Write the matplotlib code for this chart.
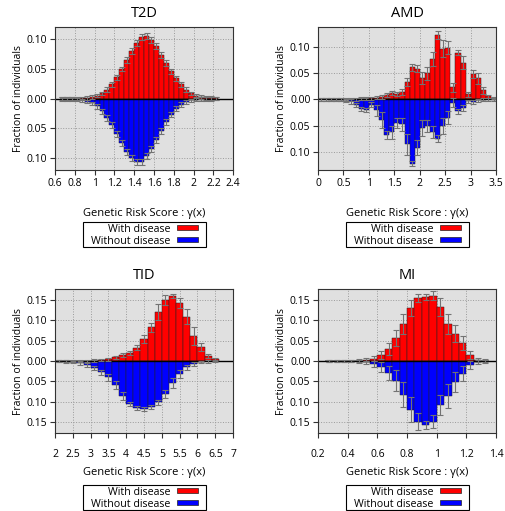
import numpy as np
import matplotlib.pyplot as plt
from matplotlib.patches import Rectangle
from matplotlib.ticker import FuncFormatter

plt.rcParams['font.family'] = ['Open Sans', 'DejaVu Sans']

# ---- T2D: bins 0.65 .. 2.25, width 0.05 ----
t2d_bins = (0.65, 0.05)
t2d_with = [0, 0, 0, 0.0003, 0.0005, 0.001, 0.003, 0.005, 0.009, 0.015, 0.024, 0.036,
            0.050, 0.065, 0.080, 0.094, 0.104, 0.106, 0.099, 0.088, 0.074, 0.060,
            0.046, 0.034, 0.024, 0.015, 0.009, 0.005, 0.003, 0.0015, 0.0008, 0.0003]
t2d_without = [0.0002, 0.0004, 0.0008, 0.0015, 0.003, 0.005, 0.008, 0.013, 0.021, 0.032,
               0.045, 0.060, 0.075, 0.089, 0.100, 0.107, 0.106, 0.097, 0.085, 0.070,
               0.055, 0.040, 0.027, 0.017, 0.010, 0.006, 0.003, 0.0015, 0.0008, 0.0004,
               0.0002, 0.0001]
t2d_with_err = [0.003, 0.003, 0.003, 0.003, 0.003, 0.003, 0.003, 0.003, 0.003, 0.004,
                0.004, 0.004, 0.004, 0.005, 0.005, 0.005, 0.005, 0.005, 0.005, 0.005,
                0.005, 0.005, 0.004, 0.004, 0.004, 0.004, 0.003, 0.003, 0.003, 0.003,
                0.003, 0.003]
t2d_without_err = [0.003, 0.003, 0.003, 0.003, 0.003, 0.003, 0.003, 0.004, 0.004, 0.005,
                   0.005, 0.005, 0.005, 0.005, 0.005, 0.005, 0.005, 0.005, 0.005, 0.005,
                   0.005, 0.005, 0.004, 0.004, 0.004, 0.003, 0.003, 0.003, 0.003, 0.003,
                   0.003, 0.003]
t2d_xticks = [0.6, 0.8, 1, 1.2, 1.4, 1.6, 1.8, 2, 2.2, 2.4]

# ---- AMD: bins 0 .. 3.5, width 0.1 ----
amd_bins = (0.0, 0.1)
amd_with = [0, 0, 0, 0, 0, 0, 0, 0.0005, 0.001, 0.001, 0.002, 0.003, 0.004, 0.009,
            0.012, 0.011, 0.014, 0.033, 0.061, 0.059, 0.041, 0.050, 0.077, 0.123,
            0.097, 0.099, 0.023, 0.089, 0.070, 0.010, 0.048, 0.040, 0.017, 0.006, 0.003]
amd_without = [0, 0, 0.0005, 0.001, 0.001, 0.002, 0.004, 0.010, 0.018, 0.020, 0.010,
               0.021, 0.040, 0.068, 0.063, 0.045, 0.048, 0.086, 0.123, 0.092, 0.055,
               0.051, 0.062, 0.075, 0.051, 0.035, 0.006, 0.023, 0.016, 0.004, 0.005,
               0.002, 0.001, 0, 0]
amd_with_err = [0.003, 0.003, 0.003, 0.003, 0.003, 0.003, 0.003, 0.003, 0.003, 0.003,
                0.003, 0.003, 0.004, 0.004, 0.004, 0.004, 0.005, 0.008, 0.006, 0.006,
                0.012, 0.012, 0.014, 0.007, 0.016, 0.012, 0.008, 0.005, 0.012, 0.005,
                0.008, 0.010, 0.006, 0.003, 0.002]
amd_without_err = [0.003, 0.003, 0.003, 0.003, 0.003, 0.003, 0.004, 0.004, 0.004, 0.004,
                   0.005, 0.010, 0.015, 0.008, 0.012, 0.010, 0.012, 0.020, 0.005, 0.015,
                   0.015, 0.012, 0.012, 0.006, 0.015, 0.012, 0.008, 0.004, 0.006, 0.003,
                   0.003, 0.003, 0.003, 0.003, 0.003]
amd_xticks = [0, 0.5, 1, 1.5, 2, 2.5, 3, 3.5]

# ---- TID: bins 2.0 .. 6.6, width 0.2 ----
t1d_bins = (2.0, 0.2)
t1d_with = [0, 0, 0, 0, 0.0005, 0.001, 0.002, 0.004, 0.009, 0.014, 0.020, 0.033, 0.054,
            0.082, 0.120, 0.150, 0.160, 0.142, 0.108, 0.062, 0.034, 0.013, 0.004]
t1d_without = [0.0005, 0.001, 0.003, 0.005, 0.010, 0.018, 0.028, 0.040, 0.058, 0.085,
               0.105, 0.115, 0.117, 0.113, 0.101, 0.080, 0.054, 0.031, 0.015, 0.007,
               0.003, 0.001, 0.0005]
t1d_with_err = [0.003, 0.003, 0.003, 0.003, 0.003, 0.003, 0.003, 0.004, 0.004, 0.005,
                0.005, 0.006, 0.010, 0.012, 0.020, 0.012, 0.005, 0.012, 0.018, 0.022,
                0.010, 0.005, 0.003]
t1d_without_err = [0.003, 0.003, 0.003, 0.004, 0.004, 0.005, 0.006, 0.008, 0.010, 0.010,
                   0.006, 0.004, 0.004, 0.005, 0.006, 0.010, 0.012, 0.010, 0.006, 0.004,
                   0.003, 0.003, 0.003]
t1d_xticks = [2, 2.5, 3, 3.5, 4, 4.5, 5, 5.5, 6, 6.5, 7]

# ---- MI: bins 0.25 .. 1.35, width 0.05 ----
mi_bins = (0.25, 0.05)
mi_with = [0, 0, 0, 0, 0.001, 0.003, 0.006, 0.015, 0.030, 0.056, 0.091, 0.130, 0.154,
           0.156, 0.160, 0.132, 0.090, 0.067, 0.044, 0.014, 0.003, 0.001]
mi_without = [0, 0, 0, 0.0005, 0.001, 0.003, 0.007, 0.015, 0.029, 0.048, 0.082, 0.119,
              0.148, 0.156, 0.148, 0.108, 0.086, 0.051, 0.031, 0.009, 0.003, 0.001]
mi_with_err = [0.003, 0.003, 0.003, 0.003, 0.003, 0.004, 0.006, 0.010, 0.015, 0.020,
               0.025, 0.020, 0.010, 0.008, 0.010, 0.022, 0.025, 0.020, 0.018, 0.010,
               0.005, 0.003]
mi_without_err = [0.003, 0.003, 0.003, 0.003, 0.003, 0.004, 0.008, 0.012, 0.018, 0.025,
                  0.030, 0.030, 0.020, 0.010, 0.015, 0.025, 0.030, 0.025, 0.018, 0.010,
                  0.005, 0.003]
mi_xticks = [0.2, 0.4, 0.6, 0.8, 1, 1.2, 1.4]

legend_labels = ['With disease', 'Without disease']

RED = '#ff0000'
BLUE = '#0000ff'
ERR = '#737373'
W, H = 506, 511


def legend_box(fig, ax):
    # small framed key under the axis: text right-aligned, colour swatch after it
    pos = ax.get_position()
    left = pos.x0 * W
    bottom = (1 - pos.y0) * H

    def fx(px):
        return px / W

    def fy(py):
        return 1 - py / H

    fig.add_artist(Rectangle((fx(left + 27.5), fy(bottom + 77)),
                             123.5 / W, 25 / H, transform=fig.transFigure,
                             facecolor='white', edgecolor='black', linewidth=0.8))
    for i, (lab, col) in enumerate(zip(legend_labels, [RED, BLUE])):
        yc = bottom + 58 + 11.5 * i
        fig.text(fx(left + 115), fy(yc), lab, ha='right', va='center_baseline',
                 fontsize=7.7)
        fig.add_artist(Rectangle((fx(left + 121.5), fy(yc + 2.2)), 21.5 / W, 5 / H,
                                 transform=fig.transFigure, facecolor=col,
                                 edgecolor='#222222', linewidth=0.5))


def panel(ax, title, bins, pos, neg, pos_err, neg_err, xticks, ylim, yticks,
          xpad, xlabelpad):
    start, width = bins
    x = start + width * (np.arange(len(pos)) + 0.5)
    pos = np.array(pos)
    neg = -np.array(neg)
    ax.set_facecolor('#e0e0e0')
    ax.set_axisbelow(True)
    ax.grid(True, linestyle=':', color='#9a9a9a', linewidth=0.7)
    ax.bar(x, pos, width=width, color=RED, edgecolor='#222222', linewidth=0.35)
    ax.bar(x, neg, width=width, color=BLUE, edgecolor='#222222', linewidth=0.35)
    ax.axhline(0, color='black', linewidth=1.0)
    ax.errorbar(x, pos, yerr=pos_err, fmt='none', ecolor=ERR, elinewidth=0.8,
                capsize=2, capthick=0.8)
    ax.errorbar(x, neg, yerr=neg_err, fmt='none', ecolor=ERR, elinewidth=0.8,
                capsize=2, capthick=0.8)
    ax.set_xlim(xticks[0], xticks[-1])
    ax.set_xticks(xticks)
    ax.set_xticklabels(['%g' % t for t in xticks])
    ax.set_ylim(*ylim)
    ax.set_yticks(yticks)
    ax.yaxis.set_major_formatter(FuncFormatter(lambda v, p: '%.2f' % abs(v)))
    ax.tick_params(direction='out', length=3.5, width=0.8, labelsize=7.5,
                   color='#333333', pad=2)
    ax.tick_params(axis='x', pad=xpad)
    for s in ax.spines.values():
        s.set_color('#333333')
        s.set_linewidth(0.8)
    ax.set_title(title, fontsize=10.5, pad=7)
    ax.set_ylabel('Fraction of individuals', fontsize=7.5, labelpad=2)
    ax.set_xlabel('Genetic Risk Score : γ(x)', fontsize=8, labelpad=xlabelpad)


fig = plt.figure(figsize=(5.06, 5.11), dpi=100)
ax1 = fig.add_axes([0.1087, 0.6673, 0.352, 0.2805])
ax2 = fig.add_axes([0.6285, 0.6673, 0.352, 0.2805])
ax3 = fig.add_axes([0.1087, 0.1526, 0.352, 0.2818])
ax4 = fig.add_axes([0.6285, 0.1526, 0.352, 0.2818])

yt1 = [-0.10, -0.05, 0, 0.05, 0.10]
yt2 = [-0.15, -0.10, -0.05, 0, 0.05, 0.10, 0.15]
panel(ax1, 'T2D', t2d_bins, t2d_with, t2d_without, t2d_with_err, t2d_without_err,
      t2d_xticks, (-0.12, 0.121), yt1, 2, 14)
panel(ax2, 'AMD', amd_bins, amd_with, amd_without, amd_with_err, amd_without_err,
      amd_xticks, (-0.135, 0.139), yt1, 2, 14)
panel(ax3, 'TID', t1d_bins, t1d_with, t1d_without, t1d_with_err, t1d_without_err,
      t1d_xticks, (-0.176, 0.176), yt2, 8, 5)
panel(ax4, 'MI', mi_bins, mi_with, mi_without, mi_with_err, mi_without_err,
      mi_xticks, (-0.176, 0.176), yt2, 8, 5)

for a in (ax1, ax2, ax3, ax4):
    legend_box(fig, a)

fig.savefig('out.png', dpi=100)
